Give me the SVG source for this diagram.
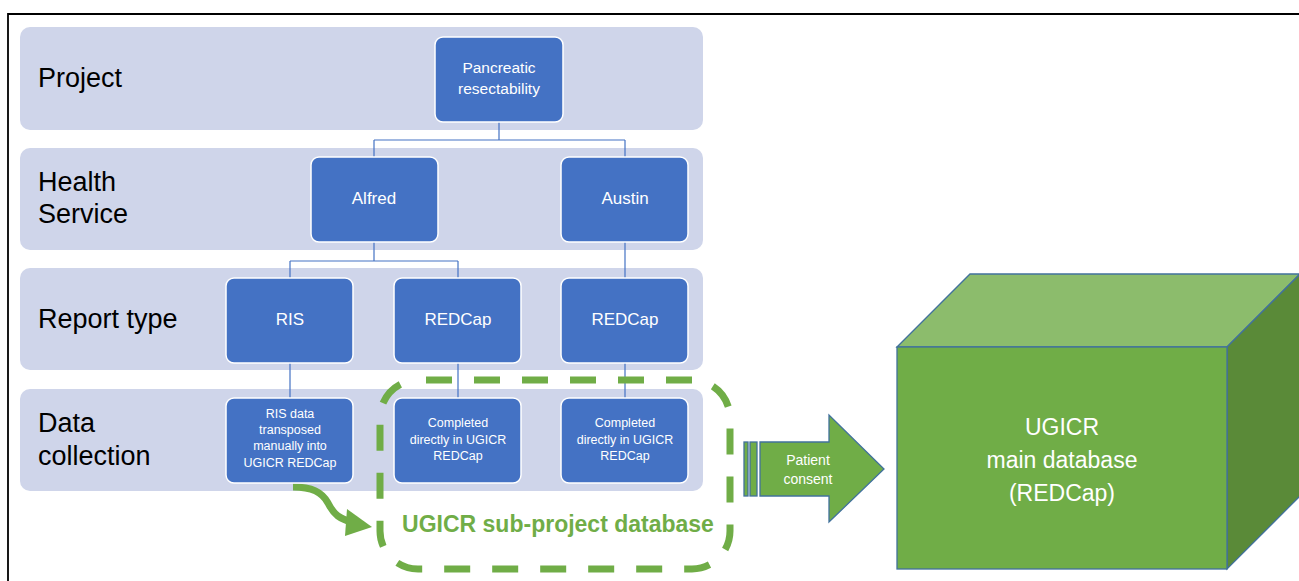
<svg xmlns="http://www.w3.org/2000/svg" width="1299" height="581" viewBox="0 0 1299 581">
<defs>
<style>
.band{fill:#CFD5EA;}
.lbl{font-family:"Liberation Sans",Arial,sans-serif;font-size:27px;fill:#000;}
.node{fill:#4472C4;stroke:#FFFFFF;stroke-width:1.5;}
.nt{font-family:"Liberation Sans",Arial,sans-serif;fill:#FFFFFF;text-anchor:middle;}
.big{font-size:17px;}
.mid{font-size:15.5px;}
.sm{font-size:12.5px;}
.conn{fill:none;stroke:#4472C4;stroke-width:1.2;}
.green{fill:#70AD47;stroke:#41719C;stroke-width:1.3;}
</style>
</defs>
<rect x="0" y="0" width="1299" height="581" fill="#FFFFFF"/>
<path d="M8,581 V14 H1299" fill="none" stroke="#000" stroke-width="1.8"/>

<g id="band-project"><rect class="band" x="20" y="27" width="683" height="103" rx="10"/><text class="lbl" x="38" y="87">Project</text></g>
<g id="band-health"><rect class="band" x="20" y="148" width="683" height="102" rx="10"/><text class="lbl" x="38" y="191">Health</text><text class="lbl" x="38" y="223">Service</text></g>
<g id="band-report"><rect class="band" x="20" y="268" width="683" height="102" rx="10"/><text class="lbl" x="38" y="328">Report type</text></g>
<g id="band-data"><rect class="band" x="20" y="389" width="683" height="102" rx="10"/><text class="lbl" x="38" y="432">Data</text><text class="lbl" x="38" y="465">collection</text></g>

<g id="connectors">
<path class="conn" d="M499,122 V140 M374,140 H625 M374,140 V157 M625,140 V157"/>
<path class="conn" d="M374,242 V261 M290,261 H458 M290,261 V278 M458,261 V278"/>
<path class="conn" d="M625,242 V278"/>
<path class="conn" d="M290,363 V398 M458,363 V398 M625,363 V398"/>
<path d="M293,487 C312,487 322,492 328,503 C334,515 340,519 352,522" fill="none" stroke="#70AD47" stroke-width="7"/>
<polygon points="347,509 372,527 345,536" fill="#70AD47"/>
</g>

<g id="node-pancreatic"><rect class="node" x="435" y="37" width="128" height="85" rx="8"/><text class="nt mid" x="499" y="73">Pancreatic</text><text class="nt mid" x="499" y="94">resectability</text></g>
<g id="node-alfred"><rect class="node" x="311" y="157" width="127" height="85" rx="8"/><text class="nt big" x="374" y="204">Alfred</text></g>
<g id="node-austin"><rect class="node" x="561" y="157" width="127" height="85" rx="8"/><text class="nt big" x="625" y="204">Austin</text></g>
<g id="node-ris"><rect class="node" x="226" y="278" width="127" height="85" rx="8"/><text class="nt big" x="290" y="325">RIS</text></g>
<g id="node-redcap1"><rect class="node" x="394" y="278" width="127" height="85" rx="8"/><text class="nt big" x="458" y="325">REDCap</text></g>
<g id="node-redcap2"><rect class="node" x="561" y="278" width="127" height="85" rx="8"/><text class="nt big" x="625" y="325">REDCap</text></g>
<g id="node-risdata"><rect class="node" x="226" y="398" width="127" height="85" rx="8"/><text class="nt sm" x="290" y="418">RIS data</text><text class="nt sm" x="290" y="434">transposed</text><text class="nt sm" x="290" y="450">manually into</text><text class="nt sm" x="290" y="467">UGICR REDCap</text></g>
<g id="node-completed1"><rect class="node" x="394" y="398" width="127" height="85" rx="8"/><text class="nt sm" x="458" y="427">Completed</text><text class="nt sm" x="458" y="444">directly in UGICR</text><text class="nt sm" x="458" y="460">REDCap</text></g>
<g id="node-completed2"><rect class="node" x="561" y="398" width="127" height="85" rx="8"/><text class="nt sm" x="625" y="427">Completed</text><text class="nt sm" x="625" y="444">directly in UGICR</text><text class="nt sm" x="625" y="460">REDCap</text></g>

<g id="subproject-db">
<rect x="380" y="380" width="350" height="189" rx="38" fill="none" stroke="#70AD47" stroke-width="7" stroke-dasharray="26 22" stroke-dashoffset="-8"/>
<text x="558" y="532" font-family="'Liberation Sans',Arial,sans-serif" font-size="23" font-weight="bold" fill="#70AD47" text-anchor="middle">UGICR sub-project database</text>
</g>

<g id="patient-consent">
<rect class="green" x="744" y="442" width="4" height="54"/>
<rect class="green" x="750" y="442" width="7" height="54"/>
<polygon class="green" points="760,442 829,442 829,415 884,469 829,522 829,496 760,496"/>
<text class="nt" x="808" y="465" font-size="14">Patient</text>
<text class="nt" x="808" y="484" font-size="14">consent</text>
</g>

<g id="main-db">
<polygon points="897,347 970,274 1300,274 1227,347" fill="#8CBC6C" stroke="#41719C" stroke-width="1.3"/>
<polygon points="1227,347 1300,274 1300,496 1227,569" fill="#5A8A38" stroke="#41719C" stroke-width="1.3"/>
<rect x="897" y="347" width="330" height="222" fill="#70AD47" stroke="#41719C" stroke-width="1.3"/>
<text class="nt" x="1062" y="435" font-size="23">UGICR</text>
<text class="nt" x="1062" y="468" font-size="23">main database</text>
<text class="nt" x="1062" y="501" font-size="23">(REDCap)</text>
</g>
</svg>
